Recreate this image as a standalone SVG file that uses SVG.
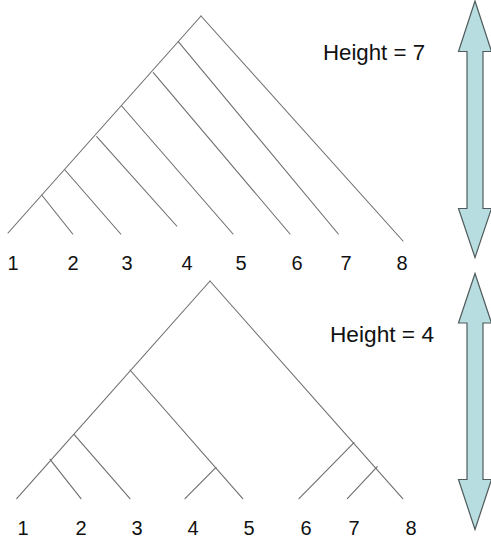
<svg xmlns="http://www.w3.org/2000/svg" width="491" height="541" viewBox="0 0 491 541">
  <style>
    .edge { stroke: #6e6e6e; stroke-width: 1.1; fill: none; stroke-linecap: round; }
    .leaf { font-family: "Liberation Sans", "DejaVu Sans", sans-serif; font-size: 20px; fill: #111; text-anchor: middle; }
    .caption { font-family: "Liberation Sans", "DejaVu Sans", sans-serif; font-size: 22px; fill: #111; }
    .arrow { fill: #b7dde0; stroke: #4f5b5c; stroke-width: 1.2; stroke-linejoin: miter; }
  </style>
  <rect width="491" height="541" fill="#ffffff"/>

  <!-- Upper tree: caterpillar shape, height 7 -->
  <g id="tree-unbalanced">
    <g id="tree-unbalanced-edges">
      <path class="edge" d="M201,16 L403,241"/>
      <path class="edge" d="M201,16 L8,233"/>
      <path class="edge" d="M41.7,195 L72.7,234"/>
      <path class="edge" d="M65,170 L120.7,234"/>
      <path class="edge" d="M96.7,136.7 L176.7,226"/>
      <path class="edge" d="M121.7,106 L233,234"/>
      <path class="edge" d="M153.3,72.7 L290,234"/>
      <path class="edge" d="M178.3,41.7 L338.3,234"/>
    </g>
    <g id="tree-unbalanced-leaves">
      <text class="leaf" x="13" y="270">1</text>
      <text class="leaf" x="73" y="270">2</text>
      <text class="leaf" x="127" y="270">3</text>
      <text class="leaf" x="187" y="270">4</text>
      <text class="leaf" x="241" y="270">5</text>
      <text class="leaf" x="297" y="270">6</text>
      <text class="leaf" x="346" y="270">7</text>
      <text class="leaf" x="402" y="270">8</text>
    </g>
    <text id="caption-height-7" class="caption" x="323" y="60" textLength="102" lengthAdjust="spacingAndGlyphs">Height = 7</text>
  </g>

  <!-- Lower tree: balanced shape, height 4 -->
  <g id="tree-balanced">
    <g id="tree-balanced-edges">
      <path class="edge" d="M210,281 L402.7,498.7"/>
      <path class="edge" d="M210,281 L16.7,498.7"/>
      <path class="edge" d="M50,459.3 L81,498.7"/>
      <path class="edge" d="M74,434.3 L130,498.7"/>
      <path class="edge" d="M130,370 L242.7,498.7"/>
      <path class="edge" d="M216,467.3 L185,498.7"/>
      <path class="edge" d="M354,442.7 L299,498.7"/>
      <path class="edge" d="M377.3,466.7 L347.3,498.7"/>
    </g>
    <g id="tree-balanced-leaves">
      <text class="leaf" x="23" y="535">1</text>
      <text class="leaf" x="81" y="535">2</text>
      <text class="leaf" x="137" y="535">3</text>
      <text class="leaf" x="193" y="535">4</text>
      <text class="leaf" x="249" y="535">5</text>
      <text class="leaf" x="306" y="535">6</text>
      <text class="leaf" x="354" y="535">7</text>
      <text class="leaf" x="411" y="535">8</text>
    </g>
    <text id="caption-height-4" class="caption" x="330" y="342" textLength="104" lengthAdjust="spacingAndGlyphs">Height = 4</text>
  </g>

  <!-- Double-headed height arrows -->
  <g id="arrow-height-7">
    <path class="arrow" d="M475,1 L491.5,51.5 L483,51.5 L483,208.5 L491.5,208.5 L475,257.5 L458.5,208.5 L467,208.5 L467,51.5 L458.5,51.5 Z"/>
  </g>
  <g id="arrow-height-4">
    <path class="arrow" d="M475,273.5 L491.5,323 L483,323 L483,479.5 L491.5,479.5 L475,529.5 L458.5,479.5 L467,479.5 L467,323 L458.5,323 Z"/>
  </g>
</svg>
